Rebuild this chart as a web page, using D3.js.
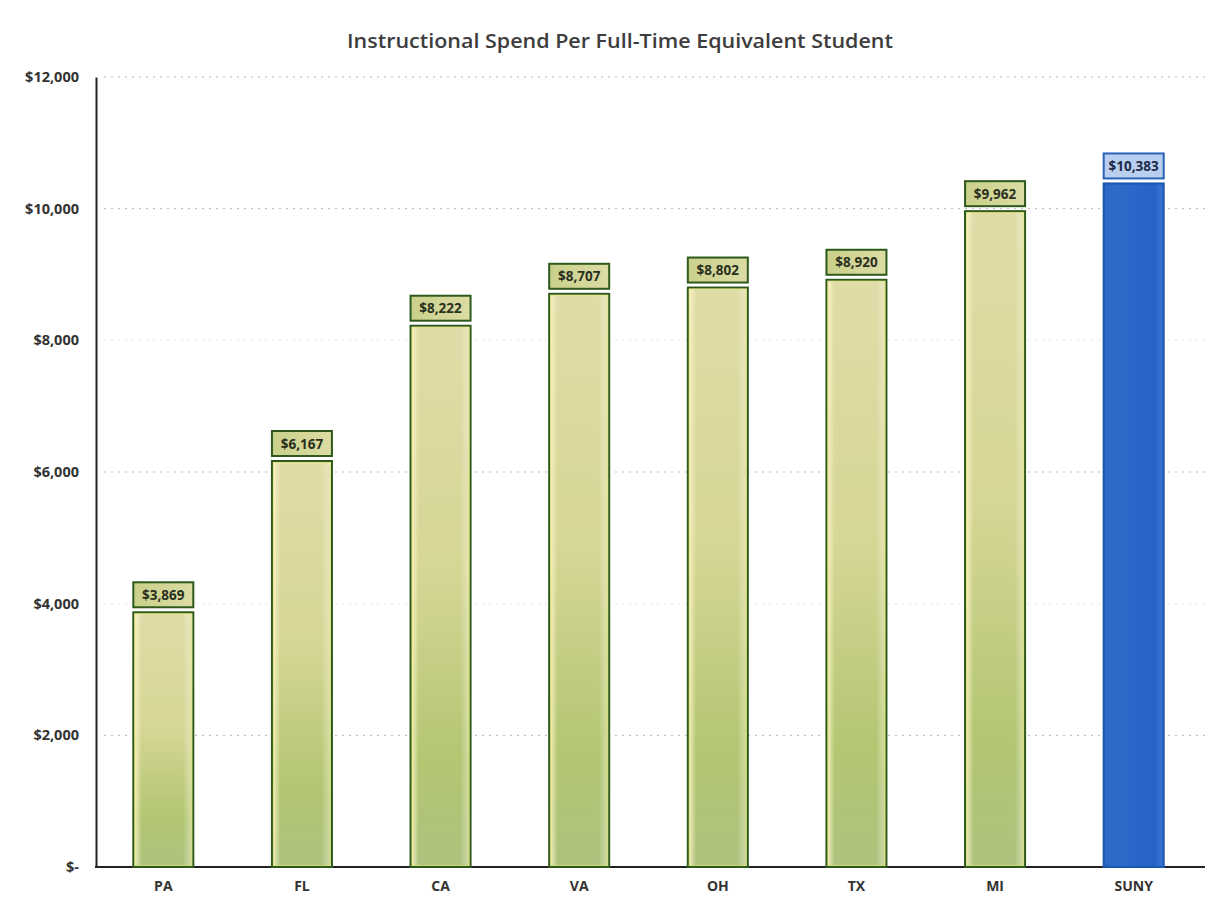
<!DOCTYPE html>
<html>
<head>
<meta charset="utf-8">
<script src="https://d3js.org/d3.v7.min.js"></script>
<style>
  body { margin: 0; background: #fff; }
  text { font-family: "Open Sans", "Noto Sans", sans-serif; }
</style>
</head>
<body>
<svg width="1217" height="907"></svg>
<script>
// chart data
var states = ['PA', 'FL', 'CA', 'VA', 'OH', 'TX', 'MI', 'SUNY']
var spend = [3869, 6167, 8222, 8707, 8802, 8920, 9962, 10383]
var yTicks = [0, 2000, 4000, 6000, 8000, 10000, 12000]

var svg = d3.select('svg')

var plotLeft = 96, plotRight = 1203, plotTop = 77, plotBottom = 867

let x = d3.scaleBand()
  .domain(states)
  .range([plotLeft - 2, plotRight])
  .paddingInner(0.567)
  .paddingOuter(0.2835)

let y = d3.scaleLinear()
  .domain([0, 12000])
  .range([plotBottom, plotTop])

let fmt = d3.format(',')
let money = v => v === 0 ? '$-' : '$' + fmt(v)

// gradients
let defs = svg.append('defs')

let gGreen = defs.append('linearGradient')
  .attr('id', 'barGreen')
  .attr('x1', 0).attr('y1', 0).attr('x2', 0).attr('y2', 1)
gGreen.append('stop').attr('offset', '0%').attr('stop-color', '#e0dca8')
gGreen.append('stop').attr('offset', '45%').attr('stop-color', '#d6d696')
gGreen.append('stop').attr('offset', '80%').attr('stop-color', '#b3c672')
gGreen.append('stop').attr('offset', '100%').attr('stop-color', '#adc27e')

let gSheen = defs.append('linearGradient')
  .attr('id', 'barSheen')
  .attr('x1', 0).attr('y1', 0).attr('x2', 1).attr('y2', 0)
gSheen.append('stop').attr('offset', '0%').attr('stop-color', '#fff6c8').attr('stop-opacity', 0.8)
gSheen.append('stop').attr('offset', '12%').attr('stop-color', '#fff6c8').attr('stop-opacity', 0.0)
gSheen.append('stop').attr('offset', '85%').attr('stop-color', '#fff').attr('stop-opacity', 0.0)
gSheen.append('stop').attr('offset', '100%').attr('stop-color', '#eef0c0').attr('stop-opacity', 0.5)

let gLabel = defs.append('linearGradient')
  .attr('id', 'labelGreen')
  .attr('x1', 0).attr('y1', 0).attr('x2', 1).attr('y2', 0)
gLabel.append('stop').attr('offset', '0%').attr('stop-color', '#c9d08a')
gLabel.append('stop').attr('offset', '100%').attr('stop-color', '#dcdca4')

let gBlue = defs.append('linearGradient')
  .attr('id', 'barBlue')
  .attr('x1', 0).attr('y1', 0).attr('x2', 1).attr('y2', 0)
gBlue.append('stop').attr('offset', '0%').attr('stop-color', '#2a67c4')
gBlue.append('stop').attr('offset', '15%').attr('stop-color', '#2d6bca')
gBlue.append('stop').attr('offset', '85%').attr('stop-color', '#2564c6')
gBlue.append('stop').attr('offset', '100%').attr('stop-color', '#3a78d0')

// title
svg.append('text')
  .attr('x', 620)
  .attr('y', 48)
  .attr('text-anchor', 'middle')
  .attr('font-size', 19.5)
  .attr('font-weight', 600)
  .attr('fill', '#3d3d3d')
  .attr('textLength', 546)
  .attr('lengthAdjust', 'spacingAndGlyphs')
  .text('Instructional Spend Per Full-Time Equivalent Student')

// gridlines
svg.append('g')
  .selectAll('line')
  .data(yTicks.filter(d => d > 0))
  .enter().append('line')
  .attr('x1', plotLeft + 8)
  .attr('x2', 1205)
  .attr('y1', d => y(d))
  .attr('y2', d => y(d))
  .attr('stroke', '#9a9a9a')
  .attr('stroke-width', 1)
  .attr('stroke-dasharray', '2 5')
  .attr('opacity', d => (d === 4000 || d === 8000) ? 0.25 : 0.7)

// y axis
let yAxis = svg.append('g')
  .attr('transform', `translate(${plotLeft},0)`)
  .call(d3.axisLeft(y).tickValues(yTicks).tickFormat(money).tickSize(0).tickPadding(17))
yAxis.select('.domain').attr('stroke', '#222').attr('stroke-width', 2)
yAxis.selectAll('text')
  .attr('font-size', 14.5)
  .attr('font-weight', 700)
  .attr('fill', '#333')
  .style('font-family', '"Open Sans", sans-serif')

// x axis
let xAxis = svg.append('g')
  .attr('transform', `translate(0,${plotBottom})`)
  .call(d3.axisBottom(x).tickSize(0).tickPadding(14))
xAxis.select('.domain').attr('stroke', '#222').attr('stroke-width', 2)
  .attr('d', `M${plotLeft - 1},0H1205`)
xAxis.selectAll('text')
  .attr('font-size', 14)
  .attr('font-weight', 700)
  .attr('fill', '#333')
  .style('font-family', '"Open Sans", sans-serif')

let data = states.map((s, i) => ({ state: s, value: spend[i] }))
let isSuny = d => d.state === 'SUNY'

// bars
let bars = svg.append('g').attr('class', 'bars')

bars.selectAll('rect.fill')
  .data(data)
  .enter().append('rect')
  .attr('class', 'fill')
  .attr('x', d => x(d.state))
  .attr('y', d => y(d.value))
  .attr('width', x.bandwidth())
  .attr('height', d => y(0) - y(d.value))
  .attr('fill', d => isSuny(d) ? 'url(#barBlue)' : 'url(#barGreen)')
  .attr('stroke', d => isSuny(d) ? '#1b55b0' : '#2d5a1c')
  .attr('stroke-width', 2)

bars.selectAll('rect.sheen')
  .data(data.filter(d => !isSuny(d)))
  .enter().append('rect')
  .attr('class', 'sheen')
  .attr('x', d => x(d.state) + 1.5)
  .attr('y', d => y(d.value) + 1.5)
  .attr('width', x.bandwidth() - 3)
  .attr('height', d => y(0) - y(d.value) - 3)
  .attr('fill', 'url(#barSheen)')
  .attr('stroke', '#e4e870')
  .attr('stroke-width', 1)
  .attr('stroke-opacity', 0.6)

// value labels
let labels = svg.append('g').attr('class', 'labels')
let boxW = 60, boxH = 25, gap = 5

labels.selectAll('rect')
  .data(data)
  .enter().append('rect')
  .attr('x', d => x(d.state) + x.bandwidth() / 2 - boxW / 2)
  .attr('y', d => y(d.value) - gap - boxH)
  .attr('width', boxW)
  .attr('height', boxH)
  .attr('fill', d => isSuny(d) ? '#b9cff0' : 'url(#labelGreen)')
  .attr('stroke', d => isSuny(d) ? '#2a62b8' : '#2d5a1c')
  .attr('stroke-width', 2)

labels.selectAll('text')
  .data(data)
  .enter().append('text')
  .attr('x', d => x(d.state) + x.bandwidth() / 2)
  .attr('y', d => y(d.value) - gap - boxH / 2 + 5)
  .attr('text-anchor', 'middle')
  .attr('font-size', 13.5)
  .attr('font-weight', 700)
  .attr('fill', d => isSuny(d) ? '#1d2a48' : '#2a2f1e')
  .text(d => money(d.value))
</script>
</body>
</html>
